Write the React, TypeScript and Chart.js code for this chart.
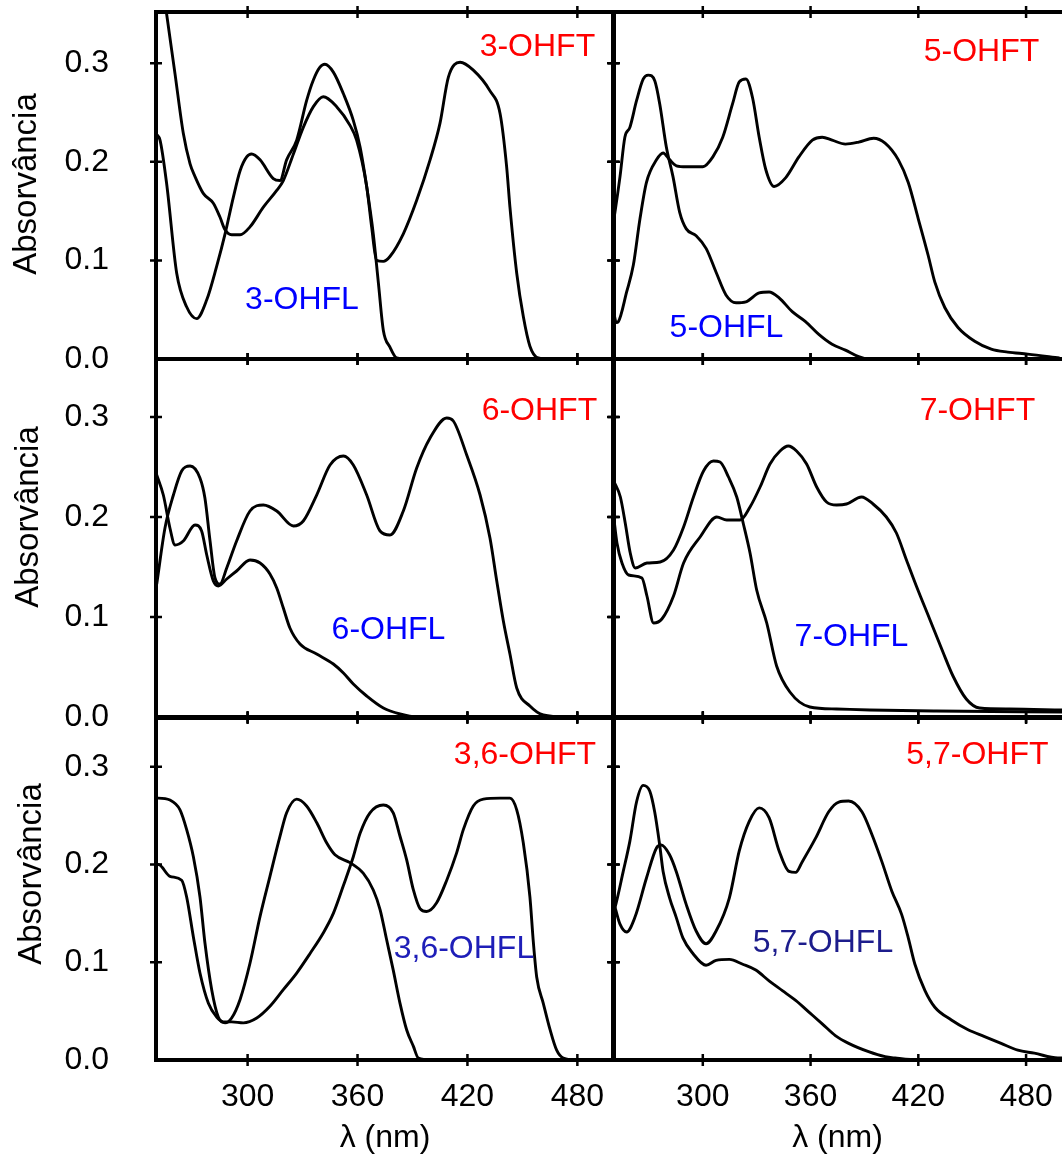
import React, { useEffect, useRef } from "react";
import { Chart, registerables } from "chart.js";

Chart.register(...registerables);

type Pt = [number, number];

// ---- axis values ----
const X_MIN = 250;
const X_MAX = 500;
const X_TICKS = [300, 360, 420, 480];
const Y_TICKS = [0, 0.1, 0.2, 0.3];

// ---- spectra: [wavelength nm, absorbance] ----
const P1_FT: Pt[] = [[252.5,0.395],[255.8,0.350],[260.4,0.289],[264.9,0.229],[268.6,0.198],[271.3,0.185],[275.8,0.168],[281.3,0.158],[284.9,0.144],[287.7,0.131],[291.3,0.126],[295.9,0.126],[301.3,0.134],[308.6,0.154],[315.9,0.171],[319.5,0.181],[325,0.208],[330.4,0.235],[335.9,0.256],[341.3,0.266],[348.6,0.256],[355.9,0.237],[359.5,0.222],[365,0.175],[367.7,0.134],[370.4,0.100],[374.1,0.099],[377.7,0.104],[385,0.127],[392.3,0.161],[399.6,0.202],[405,0.239],[409.6,0.286],[416,0.301],[423.2,0.293],[432.3,0.272],[437.8,0.249],[441.4,0.195],[443.2,0.154],[446.9,0.087],[450.5,0.043],[454.1,0.013],[458.7,0.001],[465,0],[500,0]];
const P1_FL: Pt[] = [[250.3,0.228],[252.2,0.222],[255.8,0.178],[261.3,0.087],[266.7,0.053],[272.2,0.041],[277.7,0.060],[283.1,0.094],[287.7,0.127],[292.2,0.164],[295.9,0.191],[299.5,0.205],[302.2,0.208],[306.8,0.202],[314,0.183],[317.7,0.181],[321.3,0.202],[326.8,0.222],[332.2,0.262],[335.9,0.283],[339.5,0.296],[342.2,0.299],[346.8,0.291],[352.3,0.269],[357.7,0.242],[361.4,0.215],[365,0.175],[368.6,0.127],[371.4,0.077],[374.1,0.029],[377.7,0.012],[381.4,0.001],[388.6,0],[500,0]];

const P2_FT: Pt[] = [[250.2,0.050],[251.8,0.037],[253,0.038],[257.6,0.068],[261.3,0.095],[265,0.142],[268.6,0.179],[274.2,0.202],[277.9,0.209],[281.6,0.202],[285.3,0.196],[290.8,0.195],[300,0.195],[305.6,0.205],[311.1,0.225],[316.6,0.259],[320.3,0.281],[324,0.284],[327.7,0.265],[331.4,0.225],[335.1,0.192],[339.7,0.175],[346.2,0.184],[353.5,0.205],[361,0.222],[366.5,0.225],[372,0.222],[379.4,0.218],[386.8,0.220],[395.1,0.224],[401.5,0.219],[408.9,0.202],[414.4,0.179],[420,0.142],[425.5,0.105],[429.2,0.078],[434.8,0.052],[442.1,0.032],[451.4,0.018],[460.6,0.010],[469.8,0.007],[480.9,0.005],[498.6,0.001]];
const P2_FL: Pt[] = [[250.3,0.140],[251.1,0.149],[253.9,0.185],[256.6,0.225],[259.4,0.235],[263.1,0.262],[266.8,0.284],[269.6,0.288],[273.3,0.282],[276,0.259],[279.7,0.215],[283.4,0.185],[287.1,0.149],[290.8,0.132],[296.3,0.125],[301.9,0.112],[307.4,0.088],[312.9,0.065],[318.5,0.057],[324,0.058],[331.4,0.067],[336.9,0.068],[342.5,0.062],[349.8,0.048],[357.2,0.038],[364.6,0.025],[372,0.015],[379.4,0.009],[386.8,0.0023],[392.3,0],[500,0]];

const P3_FT: Pt[] = [[250.4,0.133],[254.9,0.189],[259.5,0.222],[264,0.246],[268.6,0.251],[274,0.239],[276.7,0.219],[279.5,0.176],[282.2,0.139],[284.9,0.133],[288.6,0.149],[294,0.176],[301.3,0.206],[308.6,0.212],[315.9,0.206],[325,0.191],[330.4,0.196],[337.7,0.222],[345,0.252],[352.3,0.261],[357.7,0.252],[365,0.222],[372.3,0.186],[377.7,0.182],[385,0.206],[392.3,0.249],[399.6,0.279],[408.7,0.299],[412.3,0.296],[419.6,0.262],[426.9,0.222],[432.3,0.179],[436,0.136],[439.6,0.096],[443.2,0.063],[446.9,0.029],[454.1,0.011],[461.4,0.002],[474,0],[500,0]];
const P3_FL: Pt[] = [[250.4,0.242],[254,0.222],[257.6,0.189],[260.4,0.172],[264.9,0.176],[271.3,0.192],[274.9,0.186],[277.7,0.162],[281.3,0.136],[284,0.131],[288.6,0.138],[294,0.146],[301.3,0.157],[306.8,0.154],[312.2,0.143],[315.9,0.129],[319.5,0.109],[323.1,0.089],[328.6,0.073],[337.7,0.063],[346.8,0.053],[352.3,0.044],[357.7,0.033],[365,0.021],[374.1,0.009],[383.2,0.003],[392.3,0],[500,0]];

const P4_FT: Pt[] = [[250.4,0.200],[252.2,0.174],[255,0.154],[258.7,0.142],[266.1,0.139],[268.9,0.121],[272.6,0.094],[277.2,0.098],[283.7,0.121],[289.3,0.154],[298.5,0.180],[307.8,0.200],[313.3,0.197],[320.8,0.197],[326.3,0.210],[331.9,0.230],[337.4,0.253],[343,0.266],[347.6,0.271],[352.2,0.266],[357.8,0.253],[363.4,0.230],[368.9,0.215],[374.5,0.212],[380,0.213],[388.4,0.220],[394.8,0.213],[402.2,0.200],[407.8,0.184],[413.4,0.157],[418.9,0.131],[426.3,0.098],[433.7,0.065],[439.3,0.041],[446.7,0.018],[454.1,0.009],[470.8,0.008],[500,0.007]];
const P4_FL: Pt[] = [[250.4,0.236],[254.1,0.220],[256.9,0.193],[259.6,0.164],[262.4,0.149],[268.9,0.154],[276.3,0.155],[283.7,0.167],[289.3,0.190],[294.8,0.220],[300.4,0.246],[305.9,0.256],[309.6,0.255],[314.3,0.240],[318.9,0.220],[322.6,0.193],[326.3,0.164],[330,0.127],[335.6,0.094],[341.1,0.051],[348.5,0.025],[359.6,0.010],[374.5,0.008],[393,0.007],[430,0.006],[500,0.005]];

const P5_FT: Pt[] = [[250.5,0.200],[251.3,0.200],[257.6,0.188],[264,0.184],[266.7,0.167],[270.4,0.126],[274,0.089],[278.6,0.058],[283.1,0.044],[286.8,0.039],[291.3,0.039],[297.7,0.038],[305,0.043],[312.2,0.055],[319.5,0.072],[326.8,0.089],[334.1,0.109],[341.3,0.130],[346.8,0.150],[352.2,0.178],[357.7,0.208],[361.4,0.232],[366.8,0.253],[374.1,0.261],[379.5,0.253],[383.2,0.229],[386.8,0.205],[390.5,0.174],[394.1,0.155],[397.7,0.152],[403.2,0.161],[408.7,0.184],[414.1,0.212],[417.8,0.236],[423.2,0.260],[428.7,0.267],[437.8,0.268],[443.2,0.268],[446.9,0.256],[450.5,0.222],[454.1,0.167],[456,0.120],[457.8,0.085],[461.4,0.058],[465.1,0.031],[468.7,0.010],[472.3,0.002],[480,0],[500,0]];
const P5_FL: Pt[] = [[250.5,0.268],[251.3,0.268],[257.6,0.266],[263.1,0.256],[266.7,0.236],[270.4,0.208],[274,0.167],[276.7,0.120],[280.4,0.072],[284,0.044],[287.7,0.038],[291.3,0.043],[295.9,0.062],[301.3,0.099],[306.8,0.147],[312.2,0.188],[317.7,0.229],[321.3,0.253],[326.8,0.267],[332.2,0.260],[337.7,0.243],[343.2,0.222],[347.7,0.210],[355.9,0.202],[363.2,0.191],[368.6,0.174],[372.3,0.154],[375.9,0.123],[379.5,0.092],[383.2,0.058],[386.8,0.031],[390.5,0.014],[393.2,0.002],[400,0],[500,0]];

const P6_FT: Pt[] = [[250.3,0.160],[251.1,0.156],[253.9,0.139],[257.6,0.131],[262.2,0.146],[268.6,0.186],[274.2,0.217],[276.9,0.220],[281.5,0.210],[285.2,0.193],[290.8,0.159],[296.3,0.132],[301.8,0.119],[307.4,0.132],[314.8,0.166],[320.3,0.214],[325.8,0.244],[331.4,0.258],[336.9,0.248],[342.5,0.214],[348,0.193],[351.7,0.192],[355.4,0.203],[362.8,0.227],[370.1,0.254],[375.7,0.264],[381.2,0.265],[388.6,0.254],[394.1,0.231],[399.7,0.203],[405.2,0.173],[410.7,0.149],[414.4,0.125],[418.1,0.098],[423.7,0.071],[429.2,0.054],[438.4,0.041],[447.7,0.031],[456.9,0.024],[466.1,0.017],[475.4,0.010],[484.6,0.007],[497.7,0.002],[500,0.002]];
const P6_FL: Pt[] = [[250.3,0.152],[251.1,0.156],[255.7,0.193],[259.4,0.224],[263.1,0.264],[266.8,0.281],[270.5,0.275],[273.2,0.254],[276,0.220],[277.9,0.193],[281.5,0.166],[285.2,0.146],[288.9,0.125],[294.5,0.109],[301.8,0.097],[307.4,0.102],[314.8,0.103],[322.2,0.098],[329.5,0.092],[336.9,0.081],[344.3,0.071],[351.7,0.061],[359.1,0.049],[366.5,0.037],[373.8,0.025],[381.2,0.017],[392.3,0.0085],[401.5,0.0034],[407.1,0.002],[420,0],[500,0]];

// ---- texts ----
const FT_NAMES = ["3-OHFT", "5-OHFT", "6-OHFT", "7-OHFT", "3,6-OHFT", "5,7-OHFT"];
const FL_NAMES = ["3-OHFL", "5-OHFL", "6-OHFL", "7-OHFL", "3,6-OHFL", "5,7-OHFL"];
const Y_TITLE = "Absorvância";
const X_TITLE = "λ (nm)";

// ---- layout / styling ----
const FONT = '"Liberation Sans", Arial, Helvetica, sans-serif';
const W = 1062;
const H = 1160;
const COL_X: [number, number][] = [[156, 614], [613, 1062]];
const ROW_Y: [number, number, number][] = [[12, 359, 0.352], [359, 717, 0.358], [718, 1060, 0.35]];
const Y_TITLE_POS: [number, number][] = [[27, 184], [29, 517], [32, 874]];

interface Panel {
  ft: Pt[];
  fl: Pt[];
  idx: number;
  col: number;
  row: number;
  ftAt: Pt;
  flAt: Pt;
  flColor: string;
}

const PANELS: Panel[] = [
  { ft: P1_FT, fl: P1_FL, idx: 0, col: 0, row: 0, ftAt: [458.2, 0.316], flAt: [329.7, 0.06], flColor: "#0000ff" },
  { ft: P2_FT, fl: P2_FL, idx: 1, col: 1, row: 0, ftAt: [455.2, 0.311], flAt: [313.2, 0.031], flColor: "#0000ff" },
  { ft: P3_FT, fl: P3_FL, idx: 2, col: 0, row: 1, ftAt: [459.3, 0.306], flAt: [376.9, 0.087], flColor: "#0000ff" },
  { ft: P4_FT, fl: P4_FL, idx: 3, col: 1, row: 1, ftAt: [452.9, 0.306], flAt: [382.8, 0.08], flColor: "#0000ff" },
  { ft: P5_FT, fl: P5_FL, idx: 4, col: 0, row: 2, ftAt: [451.4, 0.312], flAt: [418.1, 0.113], flColor: "#1e1eb8" },
  { ft: P6_FT, fl: P6_FL, idx: 5, col: 1, row: 2, ftAt: [452.9, 0.312], flAt: [366.9, 0.12], flColor: "#1c1c8c" },
];

function PanelChart({ p }: { p: Panel }) {
  const ref = useRef<HTMLCanvasElement>(null);

  useEffect(() => {
    if (!ref.current) return;
    const [left, right] = COL_X[p.col];
    const [top, bottom, yMax] = ROW_Y[p.row];
    const showY = p.col === 0;
    const showX = p.row === 2;

    const decor = {
      id: "decor" + p.idx,
      afterDraw(chart: any) {
        const { ctx, chartArea: a, scales } = chart;
        const xs = scales.x;
        const ys = scales.y;
        ctx.save();
        // frame
        ctx.strokeStyle = "#000";
        ctx.lineWidth = 4;
        ctx.lineCap = "square";
        ctx.beginPath();
        ctx.moveTo(a.left, a.top);
        ctx.lineTo(a.right, a.top);
        ctx.moveTo(a.left, a.top);
        ctx.lineTo(a.left, a.bottom);
        ctx.moveTo(a.left, a.bottom);
        ctx.lineTo(a.right, a.bottom);
        if (p.col === 0) {
          ctx.moveTo(a.right, a.top);
          ctx.lineTo(a.right, a.bottom);
        }
        ctx.stroke();
        // tick marks
        ctx.lineWidth = 2.5;
        ctx.lineCap = "butt";
        ctx.beginPath();
        for (const v of X_TICKS) {
          const px = xs.getPixelForValue(v);
          ctx.moveTo(px, a.top - 6);
          ctx.lineTo(px, a.top + 6);
          ctx.moveTo(px, a.bottom - 6);
          ctx.lineTo(px, a.bottom + 6);
        }
        for (const v of Y_TICKS) {
          if (v === 0) continue;
          const py = ys.getPixelForValue(v);
          ctx.moveTo(a.left - 6, py);
          ctx.lineTo(a.left + 6, py);
          if (p.col === 0) {
            ctx.moveTo(a.right - 6, py);
            ctx.lineTo(a.right + 6, py);
          }
        }
        ctx.stroke();
        // compound labels
        ctx.font = `32px ${FONT}`;
        ctx.textAlign = "center";
        ctx.textBaseline = "middle";
        ctx.fillStyle = "#ff0000";
        ctx.fillText(FT_NAMES[p.idx], xs.getPixelForValue(p.ftAt[0]), ys.getPixelForValue(p.ftAt[1]));
        ctx.fillStyle = p.flColor;
        ctx.fillText(FL_NAMES[p.idx], xs.getPixelForValue(p.flAt[0]), ys.getPixelForValue(p.flAt[1]));
        // axis titles
        ctx.fillStyle = "#000";
        if (showY) {
          const [tx, ty] = Y_TITLE_POS[p.row];
          ctx.save();
          ctx.translate(tx, ty);
          ctx.rotate(-Math.PI / 2);
          ctx.font = `33px ${FONT}`;
          ctx.fillText(Y_TITLE, 0, 0);
          ctx.restore();
        }
        if (showX) {
          ctx.font = `32px ${FONT}`;
          ctx.fillText(X_TITLE, (a.left + a.right) / 2, 1138);
        }
        ctx.restore();
      },
    };

    const mk = (s: Pt[]) => ({
      data: s.map(([x, y]) => ({ x, y })),
      borderColor: "#000",
      borderWidth: 2.9,
      pointRadius: 0,
      fill: false,
      cubicInterpolationMode: "monotone" as const,
    });

    const chart = new Chart(ref.current, {
      type: "line",
      data: { datasets: [mk(p.ft), mk(p.fl)] },
      options: {
        animation: false,
        responsive: false,
        events: [],
        layout: {
          padding: {
            left: showY ? 0 : left,
            right: W - right,
            top,
            bottom: showX ? 0 : H - bottom,
          },
        },
        plugins: {
          legend: { display: false },
          tooltip: { enabled: false },
          title: { display: false },
        },
        scales: {
          x: {
            type: "linear",
            min: X_MIN,
            max: X_MAX,
            display: showX,
            grid: { display: false },
            border: { display: false },
            afterBuildTicks: (s: any) => {
              s.ticks = X_TICKS.map((v) => ({ value: v }));
            },
            afterFit: (s: any) => {
              if (showX) s.height = H - bottom;
              s.paddingLeft = 0;
              s.paddingRight = 0;
            },
            ticks: {
              autoSkip: false,
              maxRotation: 0,
              padding: 10,
              color: "#000",
              font: { family: FONT, size: 32 },
            },
          },
          y: {
            type: "linear",
            min: 0,
            max: yMax,
            display: showY,
            grid: { display: false },
            border: { display: false },
            afterBuildTicks: (s: any) => {
              s.ticks = Y_TICKS.map((v) => ({ value: v }));
            },
            afterFit: (s: any) => {
              if (showY) s.width = left;
              s.paddingTop = 0;
              s.paddingBottom = 0;
            },
            ticks: {
              padding: 39,
              color: "#000",
              font: { family: FONT, size: 32 },
              callback: (v: any) => Number(v).toFixed(1),
            },
          },
        },
      },
      plugins: [decor],
    } as any);

    return () => chart.destroy();
  }, [p]);

  return (
    <canvas
      ref={ref}
      width={W}
      height={H}
      style={{ position: "absolute", left: 0, top: 0, width: W, height: H }}
    />
  );
}

export default function App() {
  return (
    <div
      style={{
        position: "absolute",
        left: 0,
        top: 0,
        width: W,
        height: H,
        background: "#fff",
        overflow: "hidden",
      }}
    >
      {PANELS.map((p) => (
        <PanelChart key={p.idx} p={p} />
      ))}
    </div>
  );
}
